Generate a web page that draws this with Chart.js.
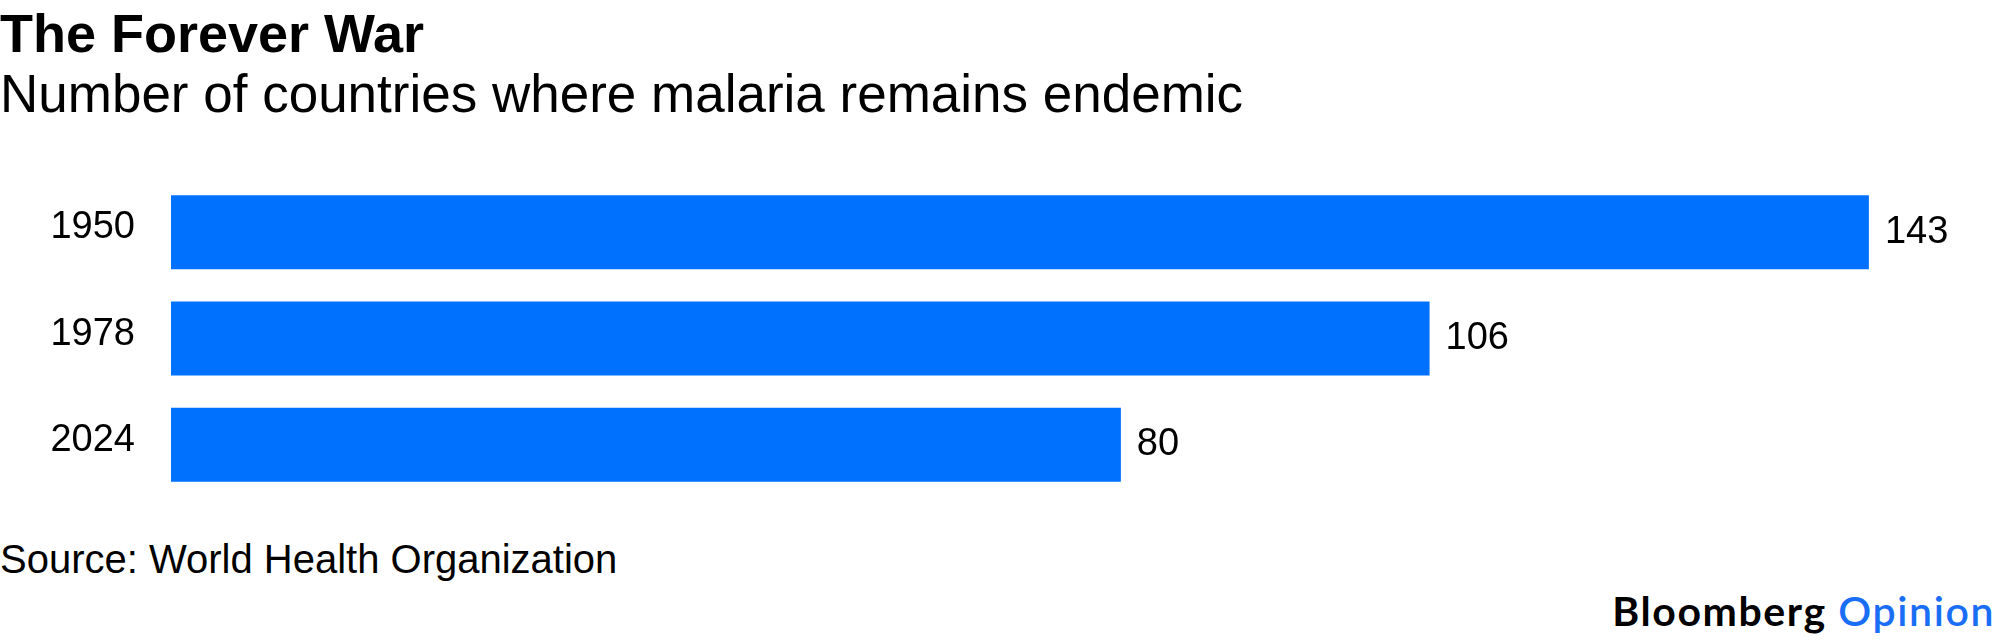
<!DOCTYPE html>
<html>
<head>
<meta charset="utf-8">
<script src="https://cdn.jsdelivr.net/npm/chart.js@4"></script>
<style>
  html, body { margin: 0; padding: 0; background: #fff; }
  #wrap { position: relative; width: 2000px; height: 642px; overflow: hidden; font-family: "Liberation Sans", Arial, sans-serif; color: #000; }
  .txt { position: absolute; white-space: nowrap; line-height: 1; }
  #title { left: 0; top: 6px; font-size: 54px; font-weight: bold; }
  #subtitle { left: 0; top: 67px; font-size: 53px; }
  #source { left: 0; top: 539px; font-size: 40px; }
  #logo { right: 5px; top: 590px; font-size: 41px; font-family: Lato, sans-serif; font-weight: 700; letter-spacing: 1.6px; }
  #logo span { color: #1a6ef5; font-weight: 600; }
  #chartBox { position: absolute; left: 0; top: 179px; width: 2000px; height: 319px; }
</style>
</head>
<body>
<div id="wrap">
  <div id="title" class="txt">The Forever War</div>
  <div id="subtitle" class="txt">Number of countries where malaria remains endemic</div>
  <div id="source" class="txt">Source: World Health Organization</div>
  <div id="logo" class="txt">Bloomberg <span>Opinion</span></div>
  <div id="chartBox"><canvas id="chart" width="2000" height="319"></canvas></div>
</div>
<script>
var years = ['1950', '1978', '2024'];
var countries = [143, 106, 80];

var BAR_COLOR = '#0071ff';
var LABEL_FONT = '38px "Liberation Sans", Arial, sans-serif';

// category labels left of the bars, value labels after the bar ends
var barLabels = {
  id: 'barLabels',
  afterDatasetsDraw: function (chart) {
    var ctx = chart.ctx;
    var meta = chart.getDatasetMeta(0);
    var yScale = chart.scales.y;
    ctx.save();
    ctx.font = LABEL_FONT;
    ctx.fillStyle = '#000';
    ctx.textBaseline = 'alphabetic';
    years.forEach(function (yr, i) {
      var y = yScale.getPixelForTick(i);
      ctx.textAlign = 'right';
      ctx.fillText(yr, chart.chartArea.left - 36, y + 6);
      var bar = meta.data[i];
      ctx.textAlign = 'left';
      ctx.fillText(String(countries[i]), bar.x + 16, bar.y + 10.5);
    });
    ctx.restore();
  }
};

new Chart(document.getElementById('chart'), {
  type: 'bar',
  data: {
    labels: years,
    datasets: [{
      data: countries,
      backgroundColor: BAR_COLOR,
      borderWidth: 0,
      categoryPercentage: 1,
      barPercentage: 0.696
    }]
  },
  options: {
    indexAxis: 'y',
    responsive: false,
    maintainAspectRatio: false,
    devicePixelRatio: 1,
    animation: false,
    layout: { padding: { left: 171, right: 48, top: 0, bottom: 0 } },
    plugins: {
      legend: { display: false },
      tooltip: { enabled: false }
    },
    scales: {
      x: { display: false, min: 0, max: 150 },
      y: { display: false }
    }
  },
  plugins: [barLabels]
});
</script>
</body>
</html>
